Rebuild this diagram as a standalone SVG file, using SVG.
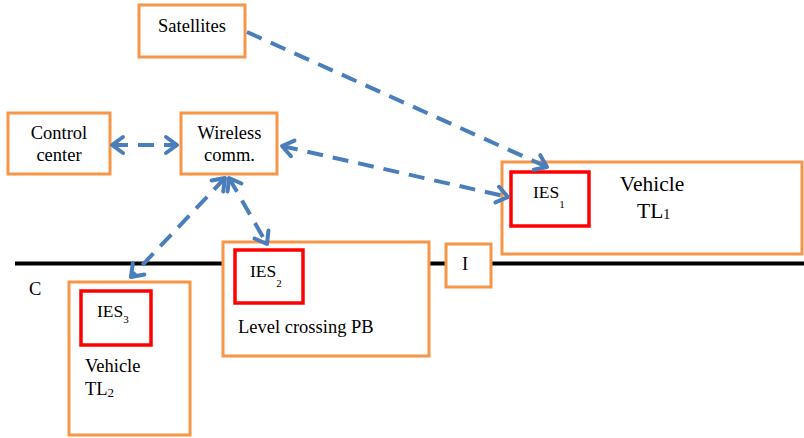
<svg xmlns="http://www.w3.org/2000/svg" width="804" height="438" viewBox="0 0 804 438">
<style>
.box{fill:#fff;stroke:#F79646;stroke-width:3}
.ies{fill:#fff;stroke:#FF0000;stroke-width:3.5}
text{font-family:'Liberation Serif',serif;fill:#000;font-size:18.5px}
.c{text-anchor:middle}
.ies-t{font-size:17.5px}
.sub{font-size:11px}
.conn{fill:none;stroke:#4A7EBB;stroke-width:4;stroke-dasharray:16 10;marker-end:url(#ah)}
.dbl{marker-start:url(#ah)}
</style>
<defs>
<marker id="ah" markerUnits="userSpaceOnUse" markerWidth="30" markerHeight="30" viewBox="-15 -15 30 30" refX="0" refY="0" orient="auto-start-reverse" overflow="visible">
<path d="M-11,-8 L0,0 L-11,8" fill="none" stroke="#4A7EBB" stroke-width="4" stroke-linecap="round" stroke-linejoin="round"/>
</marker>
</defs>
<rect width="804" height="438" fill="#fff"/>
<line id="track" x1="15" y1="263.5" x2="804" y2="263.5" stroke="#000" stroke-width="4"/>
<g font-family="Liberation Serif, serif">
<text x="29" y="295">C</text>
<g id="satellites">
<rect class="box" x="139" y="5" width="106" height="52"/>
<text class="c" x="192" y="32">Satellites</text>
</g>
<g id="control-center">
<rect class="box" x="8" y="113" width="102" height="61"/>
<text class="c" x="59" y="139">Control</text>
<text class="c" x="59" y="161">center</text>
</g>
<g id="wireless">
<rect class="box" x="181" y="113" width="96" height="61"/>
<text class="c" x="229.5" y="139">Wireless</text>
<text class="c" x="229.5" y="161">comm.</text>
</g>
<g id="vehicle-tl1">
<rect class="box" x="502" y="162" width="300" height="92"/>
<text class="c" x="652" y="191" style="font-size:21.5px">Vehicle</text>
<text x="637" y="218" style="font-size:21.5px">TL<tspan style="font-size:14px" dy="1">1</tspan></text>
</g>
<g id="ies1">
<rect class="ies" x="511" y="172" width="78" height="54"/>
<text class="ies-t" x="533" y="198">IES<tspan class="sub" dy="10">1</tspan></text>
</g>
<g id="indicator">
<rect class="box" x="446" y="244" width="45" height="43"/>
<text class="c" x="465" y="270">I</text>
</g>
<g id="level-crossing">
<rect class="box" x="223" y="242" width="206" height="114"/>
<text x="238" y="333">Level crossing PB</text>
</g>
<g id="ies2">
<rect class="ies" x="235" y="250" width="68" height="53"/>
<text class="ies-t" x="250" y="277">IES<tspan class="sub" dy="10">2</tspan></text>
</g>
<g id="vehicle-tl2">
<rect class="box" x="69" y="282" width="121" height="153"/>
<text x="85" y="372">Vehicle</text>
<text x="85" y="395">TL<tspan style="font-size:13px" dy="2">2</tspan></text>
</g>
<g id="ies3">
<rect class="ies" x="81" y="291" width="70" height="54"/>
<text class="ies-t" x="97" y="317">IES<tspan class="sub" dy="6">3</tspan></text>
</g>
</g>
<g id="connectors">
<line class="conn" x1="247" y1="32" x2="547" y2="167"/>
<line class="conn dbl" x1="282" y1="146" x2="508" y2="197"/>
<line class="conn dbl" x1="112" y1="145" x2="177" y2="145"/>
<line class="conn dbl" x1="225" y1="178" x2="131" y2="277"/>
<line class="conn dbl" x1="229" y1="178" x2="267" y2="244"/>
</g>
</svg>
